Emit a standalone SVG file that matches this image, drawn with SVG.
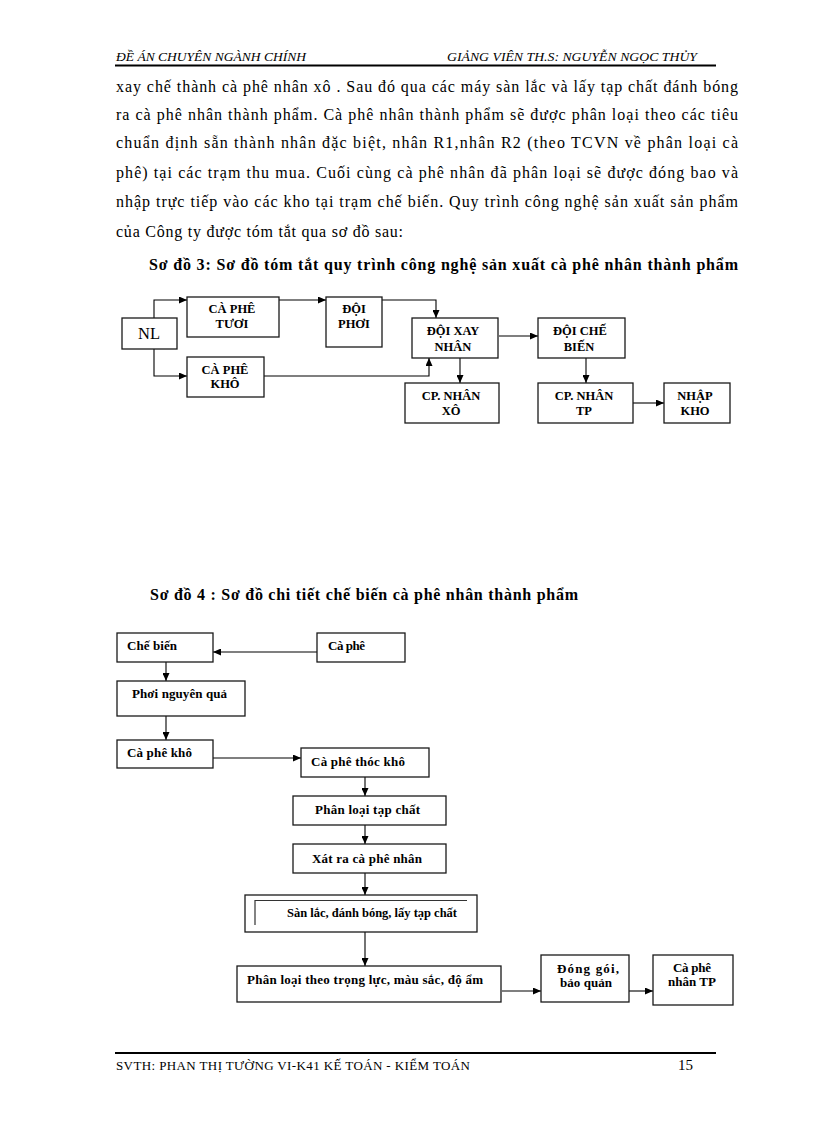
<svg xmlns="http://www.w3.org/2000/svg" width="816" height="1123" viewBox="0 0 816 1123">
<defs>
<marker id="ah" markerUnits="userSpaceOnUse" markerWidth="8" markerHeight="7" refX="8" refY="3.5" orient="auto">
<path d="M0,0 L8,3.5 L0,7 z" fill="#000"/>
</marker>
<style>
.page{font-family:"Liberation Serif","Times New Roman",serif;fill:#000}
.hdr{font-size:13px;font-style:italic}
.body{font-size:16px}
.ttl{font-size:16px;font-weight:bold}
.box{fill:#fff;stroke:#1a1a1a;stroke-width:1.3}
.n3{font-size:12.5px;font-weight:bold;text-anchor:middle}
.n4{font-size:13px;font-weight:bold}
.con{fill:none;stroke:#000;stroke-width:1.1;marker-end:url(#ah)}
.rule{stroke:#000;stroke-width:2.2}
</style>
</defs>
<rect x="0" y="0" width="816" height="1123" fill="#fff"/>
<g class="page">
<g id="header">
<text class="hdr" x="116" y="61" textLength="190" lengthAdjust="spacingAndGlyphs">ĐỀ ÁN CHUYÊN NGÀNH CHÍNH</text>
<text class="hdr" x="447" y="61" textLength="250" lengthAdjust="spacingAndGlyphs">GIẢNG  VIÊN TH.S: NGUYỄN NGỌC THỦY</text>
<line class="rule" x1="115" y1="65.5" x2="716" y2="65.5"/>
</g>
<g id="body-text">
<text class="body" x="116" y="92" textLength="622" lengthAdjust="spacing">xay chế thành cà phê nhân xô . Sau đó qua các máy sàn lắc và lấy tạp chất đánh bóng</text>
<text class="body" x="116" y="120" textLength="622" lengthAdjust="spacing">ra cà phê nhân thành phẩm. Cà phê nhân thành phẩm sẽ được phân loại theo các tiêu</text>
<text class="body" x="116" y="148" textLength="622" lengthAdjust="spacing">chuẩn định sẵn thành nhân đặc biệt, nhân R1,nhân R2 (theo TCVN về phân loại cà</text>
<text class="body" x="116" y="178" textLength="622" lengthAdjust="spacing">phê) tại các trạm thu mua. Cuối cùng cà phê nhân đã phân loại sẽ được đóng bao và</text>
<text class="body" x="116" y="207" textLength="622" lengthAdjust="spacing">nhập trực tiếp vào các kho tại trạm chế biến. Quy trình công nghệ sản xuất sản phẩm</text>
<text class="body" x="116" y="237" textLength="287" lengthAdjust="spacing">của Công ty được tóm tắt qua sơ đồ sau:</text>
</g>
<g id="title3">
<text class="ttl" x="149" y="270" textLength="589" lengthAdjust="spacing">Sơ đồ 3: Sơ đồ tóm tắt quy trình công nghệ sản xuất cà phê nhân thành phẩm</text>
</g>

<g id="d3-connectors">
<path class="con" d="M154,318 V300 H187"/>
<path class="con" d="M154,349 V376 H187"/>
<path class="con" d="M279,300 H326"/>
<path class="con" d="M382,300 H436 V318"/>
<path class="con" d="M264,376 H429 V358"/>
<path class="con" d="M460,358 V383"/>
<path class="con" d="M499,336 H538"/>
<path class="con" d="M586,358 V383"/>
<path class="con" d="M633,403 H664"/>
</g>
<g id="d3-nl">
<rect class="box" x="122" y="318" width="55" height="31"/>
<text x="149" y="339" font-size="16.5" text-anchor="middle">NL</text>
</g>
<g id="d3-caphe-tuoi">
<rect class="box" x="187" y="297" width="92" height="40"/>
<text class="n3" x="232" y="313">CÀ PHÊ</text>
<text class="n3" x="232" y="328">TƯƠI</text>
</g>
<g id="d3-doi-phoi">
<rect class="box" x="326" y="297" width="56" height="50"/>
<text class="n3" x="354" y="313">ĐỘI</text>
<text class="n3" x="354" y="328">PHƠI</text>
</g>
<g id="d3-caphe-kho">
<rect class="box" x="187" y="357" width="77" height="40"/>
<text class="n3" x="225" y="374">CÀ PHÊ</text>
<text class="n3" x="225" y="388">KHÔ</text>
</g>
<g id="d3-doi-xay">
<rect class="box" x="412" y="318" width="86" height="40"/>
<text class="n3" x="453" y="335">ĐỘI XAY</text>
<text class="n3" x="453" y="351">NHÂN</text>
</g>
<g id="d3-doi-che-bien">
<rect class="box" x="538" y="318" width="87" height="40"/>
<text class="n3" x="580" y="335">ĐỘI  CHẾ</text>
<text class="n3" x="579" y="351">BIẾN</text>
</g>
<g id="d3-cp-xo">
<rect class="box" x="405" y="383" width="94" height="40"/>
<text class="n3" x="451" y="400">CP. NHÂN</text>
<text class="n3" x="451" y="415">XÔ</text>
</g>
<g id="d3-cp-tp">
<rect class="box" x="538" y="383" width="95" height="40"/>
<text class="n3" x="584" y="400">CP. NHÂN</text>
<text class="n3" x="584" y="415">TP</text>
</g>
<g id="d3-nhap-kho">
<rect class="box" x="664" y="383" width="66" height="40"/>
<text class="n3" x="695" y="400">NHẬP</text>
<text class="n3" x="695" y="415">KHO</text>
</g>

<g id="title4">
<text class="ttl" x="150" y="600" textLength="428" lengthAdjust="spacing">Sơ đồ 4 : Sơ đồ chi tiết chế biến cà phê nhân thành phẩm</text>
</g>

<g id="d4-connectors">
<path class="con" d="M317,652 H213"/>
<path class="con" d="M166,662 V681"/>
<path class="con" d="M166,716 V740"/>
<path class="con" d="M213,758 H301"/>
<path class="con" d="M365,777 V796"/>
<path class="con" d="M365,825 V844"/>
<path class="con" d="M365,873 V895"/>
<path class="con" d="M365,932 V966"/>
<path class="con" d="M502,991 H541"/>
<path class="con" d="M629,991 H653"/>
</g>
<g id="d4-che-bien">
<rect class="box" x="117" y="633" width="96" height="29"/>
<text class="n4" x="127" y="650" textLength="50" lengthAdjust="spacing">Chế biến</text>
</g>
<g id="d4-ca-phe">
<rect class="box" x="317" y="633" width="88" height="29"/>
<text class="n4" x="328" y="650" textLength="37" lengthAdjust="spacing">Cà phê</text>
</g>
<g id="d4-phoi">
<rect class="box" x="117" y="681" width="128" height="35"/>
<text class="n4" x="132" y="698" textLength="95" lengthAdjust="spacing">Phơi nguyên quả</text>
</g>
<g id="d4-ca-phe-kho">
<rect class="box" x="117" y="740" width="96" height="28"/>
<text class="n4" x="127" y="757" textLength="65" lengthAdjust="spacing">Cà phê  khô</text>
</g>
<g id="d4-thoc-kho">
<rect class="box" x="301" y="748" width="128" height="29"/>
<text class="n4" x="311" y="766" textLength="94" lengthAdjust="spacing">Cà phê  thóc  khô</text>
</g>
<g id="d4-phan-loai-tap-chat">
<rect class="box" x="293" y="796" width="153" height="29"/>
<text class="n4" x="315" y="814" textLength="105" lengthAdjust="spacing">Phân  loại  tạp  chất</text>
</g>
<g id="d4-xat">
<rect class="box" x="293" y="844" width="153" height="29"/>
<text class="n4" x="312" y="863" textLength="110" lengthAdjust="spacing">Xát ra cà phê nhân</text>
</g>
<g id="d4-san-lac">
<rect class="box" x="245" y="895" width="232" height="37"/>
<path d="M255,925 V900.5 H467" fill="none" stroke="#333" stroke-width="1.2"/>
<text x="287" y="917" font-size="13" font-weight="900" textLength="170" lengthAdjust="spacingAndGlyphs">Sàn lắc, đánh bóng, lấy tạp chất</text>
</g>
<g id="d4-phan-loai-trong-luc">
<rect class="box" x="237" y="966" width="264" height="36"/>
<text class="n4" x="247" y="984" textLength="236" lengthAdjust="spacing">Phân  loại  theo  trọng  lực, màu  sắc, độ  ẩm</text>
</g>
<g id="d4-dong-goi">
<rect class="box" x="541" y="955" width="88" height="47"/>
<text class="n4" x="557" y="973" textLength="62" lengthAdjust="spacing">Đóng gói,</text>
<text class="n4" x="560" y="987" textLength="52" lengthAdjust="spacing">bảo quản</text>
</g>
<g id="d4-ca-phe-nhan-tp">
<rect class="box" x="653" y="955" width="80" height="50"/>
<text class="n4" x="673" y="972" textLength="38" lengthAdjust="spacing">Cà phê</text>
<text class="n4" x="668" y="986" textLength="48" lengthAdjust="spacing">nhân TP</text>
</g>

<g id="footer">
<line class="rule" x1="115" y1="1053" x2="716" y2="1053"/>
<text x="116" y="1070" font-size="13" textLength="354" lengthAdjust="spacing">SVTH:  PHAN THỊ TƯỜNG  VI-K41  KẾ TOÁN - KIỂM  TOÁN</text>
<text x="678" y="1070" font-size="15">15</text>
</g>
</g>
</svg>
